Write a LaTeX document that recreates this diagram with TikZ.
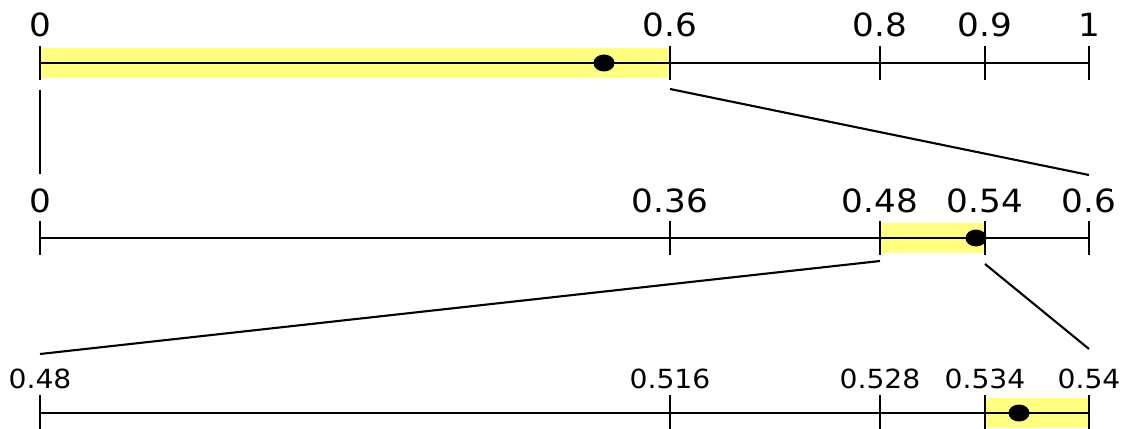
\documentclass[tikz,border=0pt]{standalone}
\usepackage{fontspec}
\setmainfont{DejaVu Sans}
\usetikzlibrary{positioning}
\definecolor{band}{RGB}{255,255,128}

\begin{document}
\begin{tikzpicture}[x=0.02cm,y=-0.02cm,line width=1.6pt,
  big/.style={anchor=base,inner sep=0pt,xscale=1.07,font=\fontsize{18.2}{20}\selectfont},
  small/.style={anchor=base,inner sep=0pt,xscale=1.07,font=\fontsize{15}{17}\selectfont},
  zoomline/.style={line width=1.2pt}]
\useasboundingbox (0,0) rectangle (1125,429);
% row 1: [0,1)
\def\y{63}
\fill[band] (40,\y-15) rectangle (670,\y+15);
\draw (40,\y) -- (1089,\y);
\foreach \x/\t in {40/0,670/0.6,880/0.8,985/0.9,1089/1}{
  \draw (\x,\y-17) -- (\x,\y+17);
  \node[big] (a\x) at (\x,37) {\t};
}
\fill (604,\y) ellipse [x radius=10.5,y radius=8.5];
% row 2: [0,0.6)
\def\y{238}
\fill[band] (880,\y-15) rectangle (985,\y+15);
\draw (40,\y) -- (1089,\y);
\foreach \x/\t in {40/0,670/0.36,880/0.48,985/0.54,1089/0.6}{
  \draw (\x,\y-17) -- (\x,\y+17);
  \node[big] (b\x) at (\x,212) {\t};
}
\fill (976,\y) ellipse [x radius=10.5,y radius=8.5];
% row 3: [0.48,0.54)
\def\y{413}
\fill[band] (985,\y-15) rectangle (1089,\y+15);
\draw (40,\y) -- (1089,\y);
\foreach \x/\t in {40/0.48,670/0.516,880/0.528,985/0.534,1089/0.54}{
  \draw (\x,\y-18) -- (\x,\y+18);
  \node[small] (c\x) at (\x,388) {\t};
}
\fill (1019,\y) ellipse [x radius=10.5,y radius=8.5];
% zoom lines
\coordinate (p1) at (40,90);    \coordinate (q1) at (40,174);
\coordinate (p2) at (670,89);   \coordinate (q2) at (1089,175);
\coordinate (p3) at (880,261);  \coordinate (q3) at (40,354);
\coordinate (p4) at (985,264);  \coordinate (q4) at (1089,349);
\draw[zoomline] (p1) -- (q1);
\draw[zoomline] (p2) -- (q2);
\draw[zoomline] (p3) -- (q3);
\draw[zoomline] (p4) -- (q4);
\end{tikzpicture}
\end{document}
